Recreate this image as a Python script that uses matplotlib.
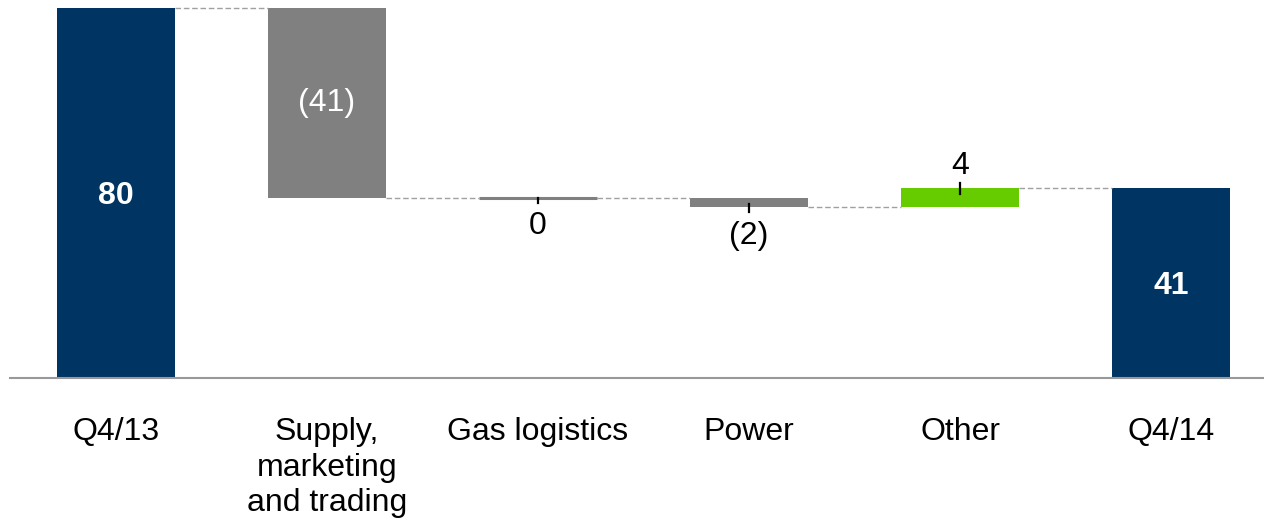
import matplotlib.pyplot as plt
import numpy as np

plt.rcParams['font.family'] = ['Liberation Sans', 'DejaVu Sans']

# waterfall data
categories = ["Q4/13", "Supply,\nmarketing\nand trading", "Gas logistics", "Power", "Other", "Q4/14"]
values = [80, -41, 0, -2, 4, 41]
labels = ["80", "(41)", "0", "(2)", "4", "41"]
is_total = [True, False, False, False, False, True]

navy = "#003462"
grey = "#808080"
green = "#66cc00"
fs = 23

fig = plt.figure(figsize=(12.64, 5.22), dpi=100)
ax = fig.add_axes([10 / 1264, (522 - 378) / 522, 1 - 10 / 1264, 378 / 522])

x = np.arange(len(categories))
width = 0.56

# bottoms/tops of each bar
bottoms = []
tops = []
level = 0
for v, tot in zip(values, is_total):
    if tot:
        bottoms.append(0)
        tops.append(v)
        level = v
    else:
        new = level + v
        bottoms.append(min(level, new))
        tops.append(max(level, new))
        level = new

for i, (v, tot) in enumerate(zip(values, is_total)):
    if tot:
        color = navy
    elif v > 0:
        color = green
    else:
        color = grey
    h = tops[i] - bottoms[i]
    if h == 0:
        ax.plot([x[i] - width / 2, x[i] + width / 2], [bottoms[i]] * 2,
                color=grey, lw=2.2, solid_capstyle="butt")
    else:
        ax.bar(x[i], h, bottom=bottoms[i], width=width, color=color, linewidth=0)

# dashed connectors between bars
running = []
level = 0
for v, tot in zip(values, is_total):
    level = v if tot else level + v
    running.append(level)
for i in range(len(values) - 1):
    ax.plot([x[i] + width / 2, x[i + 1] - width / 2], [running[i]] * 2,
            color="#a0a0a0", lw=1, ls=(0, (4, 2)))

# value labels
for i, (v, tot) in enumerate(zip(values, is_total)):
    if tot:
        ax.text(x[i], (bottoms[i] + tops[i]) / 2 - 0.6, labels[i], ha="center", va="center",
                color="white", fontsize=fs, fontweight="bold")
    elif i == 1:
        ax.text(x[i], (bottoms[i] + tops[i]) / 2, labels[i], ha="center", va="center",
                color="white", fontsize=fs)
    elif v > 0:
        ax.plot([x[i], x[i]], [tops[i] - 1.2, tops[i] + 1.2], color="black", lw=1.6)
        ax.text(x[i], tops[i] + 1.5, labels[i], ha="center", va="bottom",
                color="black", fontsize=fs)
    else:
        top_in = 0.2 if v == 0 else 0.9
        ax.plot([x[i], x[i]], [bottoms[i] + top_in - 0.4, bottoms[i] - 1.1],
                color="black", lw=1.6)
        ax.text(x[i], bottoms[i] - 3.0, labels[i], ha="center", va="top",
                color="black", fontsize=fs)

ax.set_xlim(-0.502, 5.44)
ax.set_ylim(0, 81.7)
ax.set_xticks(x)
ax.set_xticklabels(categories, fontsize=fs, linespacing=1.25)
ax.tick_params(axis="x", length=0, pad=28)
ax.set_yticks([])
for s in ["top", "right", "left"]:
    ax.spines[s].set_visible(False)
ax.spines["bottom"].set_color("#999999")
ax.spines["bottom"].set_linewidth(1.5)

fig.savefig("out.png", dpi=100)
